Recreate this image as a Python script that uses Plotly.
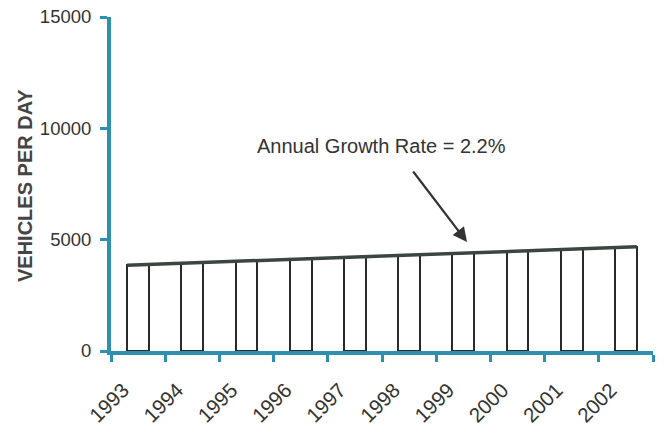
import plotly.graph_objects as go

# Average daily traffic, 1993-2002
years = ["1993", "1994", "1995", "1996", "1997", "1998", "1999", "2000", "2001", "2002"]
vehicles_per_day = [3850, 3935, 4020, 4110, 4200, 4290, 4385, 4480, 4580, 4680]
y_ticks = [0, 5000, 10000, 15000]
y_title = "VEHICLES PER DAY"
growth_label = "Annual Growth Rate = 2.2%"

AXIS = "#2e8fae"
INK = "#333333"
BAR_HALF = 0.2

# straight trend line from the top-left corner of the first bar
# to the top-right corner of the last bar
trend_x = [-BAR_HALF, len(years) - 1 + BAR_HALF]
trend_y = [vehicles_per_day[0], vehicles_per_day[-1]]

fig = go.Figure()
fig.add_trace(go.Bar(
    x=years, y=vehicles_per_day, width=2 * BAR_HALF,
    marker=dict(color="white", line=dict(color="#2a2a2a", width=2)),
    showlegend=False, hoverinfo="x+y",
))
fig.add_trace(go.Scatter(
    x=trend_x, y=trend_y, xaxis="x2", mode="lines",
    line=dict(color="#3b463f", width=3.5), showlegend=False, hoverinfo="skip",
))

# plot area edges in pixels, used to place the annotations
L, R, T, B = 111, 653, 17, 351
W, H = 665, 431

def px(x):
    return (x - L) / (R - L)

def py(y):
    return (B - y) / (B - T)

fig.add_annotation(
    x=px(25), y=py(186), xref="paper", yref="paper", text=f"<b>{y_title}</b>",
    textangle=-90, showarrow=False, xanchor="center", yanchor="middle",
    font=dict(family="Liberation Sans, Arial", size=20, color="#444444"),
)
fig.add_annotation(
    x=px(381), y=py(146), xref="paper", yref="paper", text=growth_label,
    showarrow=False, font=dict(family="Liberation Sans, Arial", size=20, color=INK),
)
fig.add_annotation(
    x=px(467), y=py(242), xref="paper", yref="paper", text="",
    ax=412 - 467, ay=170 - 242, axref="pixel", ayref="pixel",
    showarrow=True, arrowhead=2, arrowsize=1.3, arrowwidth=2.2, arrowcolor="#333333",
)

fig.update_layout(
    width=W, height=H,
    margin=dict(l=L, r=W - R, t=T, b=H - B),
    paper_bgcolor="white", plot_bgcolor="white",
    font=dict(family="Liberation Sans, Arial", color=INK),
    bargap=0,
    xaxis=dict(
        type="category", range=[-0.5, len(years) - 0.5], automargin=False,
        tickson="boundaries", ticks="outside", ticklen=7, tickwidth=3, tickcolor=AXIS,
        showline=True, linecolor=AXIS, linewidth=4, showgrid=False, zeroline=False,
        tickangle=-45, tickfont=dict(size=20.5, color=INK),
        ticklabelshift=-15, ticklabelstandoff=15,
    ),
    xaxis2=dict(
        overlaying="x", type="linear", range=[-0.5, len(years) - 0.5],
        visible=False,
    ),
    yaxis=dict(
        range=[0, 15000], tickvals=y_ticks, tickformat="d", automargin=False,
        ticks="outside", ticklen=7, tickwidth=3, tickcolor=AXIS,
        showline=True, linecolor=AXIS, linewidth=4, showgrid=False, zeroline=False,
        tickfont=dict(size=18.5, color=INK), ticklabelstandoff=5,
    ),
)

fig.write_html("out.html")
